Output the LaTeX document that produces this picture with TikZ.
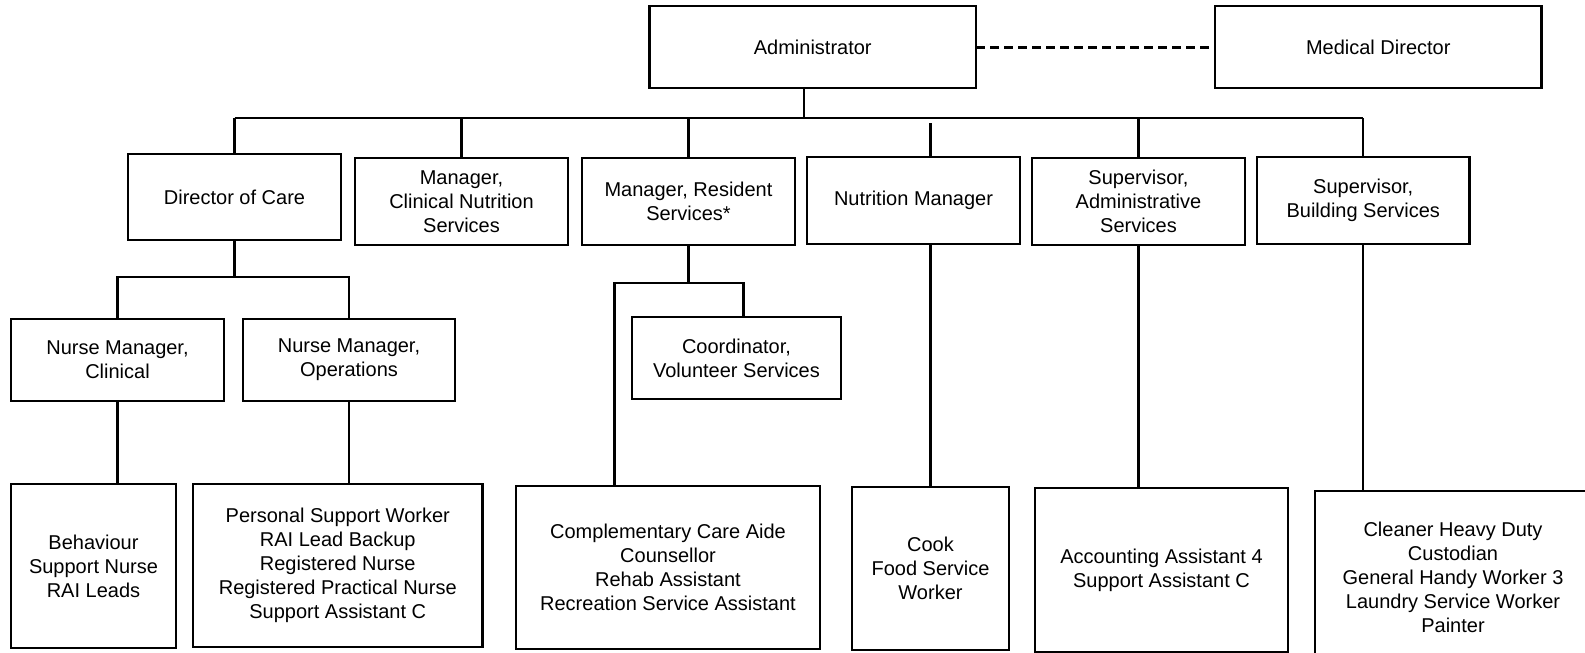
\documentclass[tikz,border=0pt]{standalone}
\usepackage{fontspec}
\setmainfont{Liberation Sans}
\usetikzlibrary{calc}
\begin{document}
\begin{tikzpicture}[x=1pt,y=-1pt,
  box/.style={draw, line width=2.7pt, rectangle, inner sep=0pt, outer sep=0pt,
              align=center, font=\fontsize{20}{24}\selectfont},
  topbox/.style={box, minimum width=326.5pt, minimum height=82pt},
  midbox/.style={box, minimum width=213pt, minimum height=87pt},
  subbox/.style={box, minimum width=212pt, minimum height=82pt},
  link/.style={line width=2.3pt},
  thinlink/.style={line width=1.4pt},
  dashlink/.style={line width=3pt, dash pattern=on 9pt off 5pt},
]
\useasboundingbox (0,0) rectangle (1585,653);
\clip (0,0) rectangle (1585,653);
\fill[white] (0,0) rectangle (1585,653);

% top level
\node[topbox] (admin) at (812.75,47) {Administrator};
\node[topbox] (med) at (1378.25,47) {Medical Director};

% department heads
\node[midbox, minimum height=86pt] (doc) at (234.5,197) {Director of Care};
\node[midbox] (cns) at (461.5,201.5) {Manager,\\Clinical Nutrition\\Services};
\node[midbox] (mrs) at (688.5,201.5) {Manager, Resident\\Services*};
\node[midbox] (nm)  at (913.5,200.5) {Nutrition Manager};
\node[midbox] (sas) at (1138.5,201.5) {Supervisor,\\Administrative\\Services};
\node[midbox, minimum width=212.5pt] (sbs) at (1363.25,200.5) {Supervisor,\\Building Services};

% second-level managers
\node[subbox, minimum width=213pt] (nmc) at (117.5,360) {Nurse Manager,\\Clinical};
\node[subbox] (nmo) at (349,360) {Nurse Manager,\\Operations};
\node[subbox, minimum width=209pt] (cvs) at (736.5,358) {Coordinator,\\Volunteer Services};

% staff groups
\node[box, minimum width=165pt, minimum height=164pt] (beh) at (93.5,566)
  {Behaviour\\Support Nurse\\RAI Leads};
\node[box, minimum width=289.5pt, minimum height=163pt] (psw) at (337.75,565.5)
  {Personal Support Worker\\RAI Lead Backup\\Registered Nurse\\Registered Practical Nurse\\Support Assistant C};
\node[box, minimum width=304pt, minimum height=163pt] (cca) at (668,567.5)
  {Complementary Care Aide\\Counsellor\\Rehab Assistant\\Recreation Service Assistant};
\node[box, minimum width=157pt, minimum height=163pt] (cook) at (930.5,568.5)
  {Cook\\Food Service\\Worker};
\node[box, minimum width=253pt, minimum height=164pt] (acc) at (1161.5,570)
  {Accounting Assistant 4\\Support Assistant C};
\node[box, minimum width=276pt, minimum height=172pt] (cln) at (1453,577)
  {Cleaner Heavy Duty\\Custodian\\General Handy Worker 3\\Laundry Service Worker\\Painter};

% advisory link
\draw[dashlink] (admin.east) -- (med.west);

% main bus under the administrator
\coordinate (bus) at (0,118);
\coordinate (busmid) at (845,118);
\coordinate (adrop) at ($(admin.south)+(-9,0)$);
\draw[link] (adrop) -- (adrop |- bus);
\draw[link] (doc.north |- bus) -- (busmid);
\draw[thinlink] (busmid) -- (sbs.north |- bus);
\draw[link] (doc.north |- bus) -- (doc.north);
\draw[link] (cns.north |- bus) -- (cns.north);
\draw[link] (mrs.north |- bus) -- (mrs.north);
\draw[link] ($(cook.north |- bus)+(0,5)$) -- (cook.north |- nm.north);
\draw[link] (sas.north |- bus) -- (sas.north);
\draw[link] (sbs.north |- bus) -- (sbs.north);

% director of care branch
\coordinate (docbus) at (0,277);
\draw[link] (doc.south) -- (doc.south |- docbus);
\draw[link] (nmc.north) -- (nmc.north |- docbus) -- (nmo.north |- docbus) -- (nmo.north);
\draw[link] (nmc.south) -- (nmc.south |- beh.north);
\draw[link] (nmo.south) -- (nmo.south |- psw.north);

% resident services branch
\coordinate (rleft) at (614.5,283);
\coordinate (rright) at (743.5,283);
\draw[link] (mrs.south) -- (mrs.south |- rleft);
\draw[link] (rleft |- cca.north) -- (rleft) -- (rright) -- (rright |- cvs.north);

% remaining departments
\draw[link] (cook.north |- nm.south) -- (cook.north);
\draw[link] (sas.south) -- (sas.south |- acc.north);
\draw[link] (sbs.south) -- (sbs.south |- cln.north);
\end{tikzpicture}
\end{document}
